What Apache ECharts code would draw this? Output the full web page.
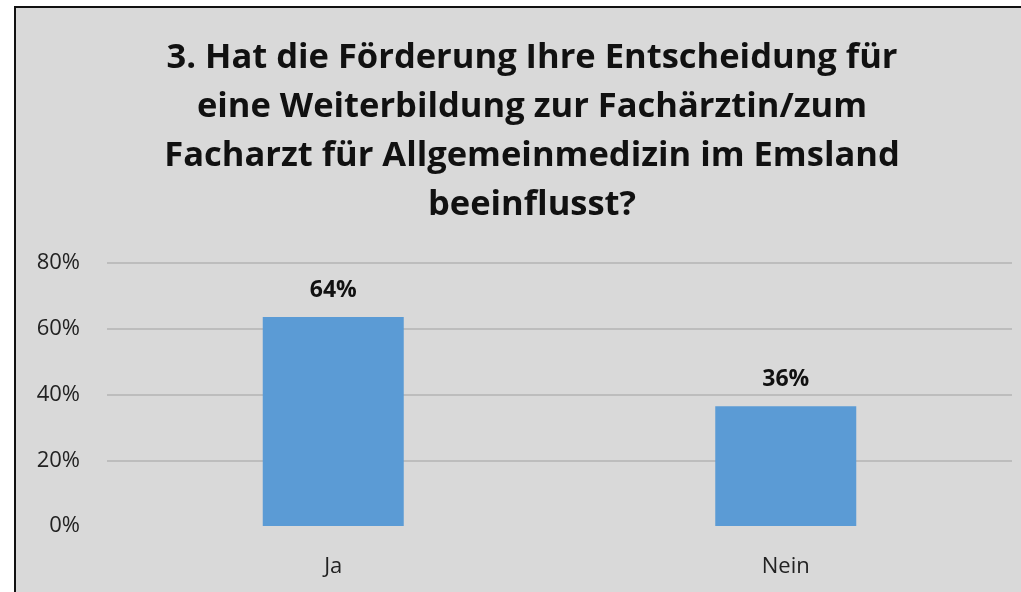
<!DOCTYPE html>
<html>
<head>
<meta charset="utf-8">
<script src="https://cdn.jsdelivr.net/npm/echarts@6/dist/echarts.min.js"></script>
<style>
  html, body { margin: 0; padding: 0; background: #fff; }
  #frame {
    position: absolute; left: 14px; top: 6px; width: 1007px; height: 586px;
    border-left: 2px solid #111; border-top: 2px solid #111; background: #d9d9d9;
    box-sizing: border-box;
  }
  #chart { position: absolute; left: 0; top: 0; width: 1021px; height: 592px; }
</style>
</head>
<body>
<div id="frame"></div>
<div id="chart"></div>
<script>
const titleLines = [
  "3. Hat die Förderung Ihre Entscheidung für",
  "eine Weiterbildung zur Fachärztin/zum",
  "Facharzt für Allgemeinmedizin im Emsland",
  "beeinflusst?"
];
const categories = ["Ja", "Nein"];
const shares = [63.6, 36.4];
const yTicks = { min: 0, max: 80, interval: 20 };

const fontFamily = "'Open Sans', sans-serif";
const chart = echarts.init(document.getElementById("chart"));

// no grid line on the 0% baseline, the rest light gray
const gridColors = ["transparent", "#bdbdbd", "#bdbdbd", "#bdbdbd", "#bdbdbd"];

chart.setOption({
  backgroundColor: "transparent",
  animation: false,
  title: {
    text: titleLines.join("\n"),
    left: 527,
    top: 29,
    textAlign: "center",
    textStyle: {
      fontFamily,
      fontSize: 34.5,
      fontWeight: "bold",
      color: "#111",
      lineHeight: 49
    }
  },
  grid: { left: 107, right: 9, top: 263, bottom: 66 },
  xAxis: {
    type: "category",
    data: categories,
    axisLine: { show: false },
    axisTick: { show: false },
    axisLabel: {
      fontFamily,
      fontSize: 22,
      color: "#222",
      margin: 30
    }
  },
  yAxis: {
    type: "value",
    min: yTicks.min,
    max: yTicks.max,
    interval: yTicks.interval,
    axisLine: { show: false },
    axisTick: { show: false },
    axisLabel: {
      fontFamily,
      fontSize: 22,
      color: "#222",
      margin: 27,
      formatter: "{value}%"
    },
    splitLine: {
      lineStyle: { color: gridColors, width: 2 }
    }
  },
  series: [
    {
      type: "bar",
      data: shares,
      barWidth: 141,
      itemStyle: { color: "#5b9bd5" },
      label: {
        show: true,
        position: "top",
        distance: 15,
        fontFamily,
        fontSize: 23,
        fontWeight: "bold",
        color: "#111",
        formatter: (p) => Math.round(p.value) + "%"
      }
    }
  ]
});
</script>
</body>
</html>
